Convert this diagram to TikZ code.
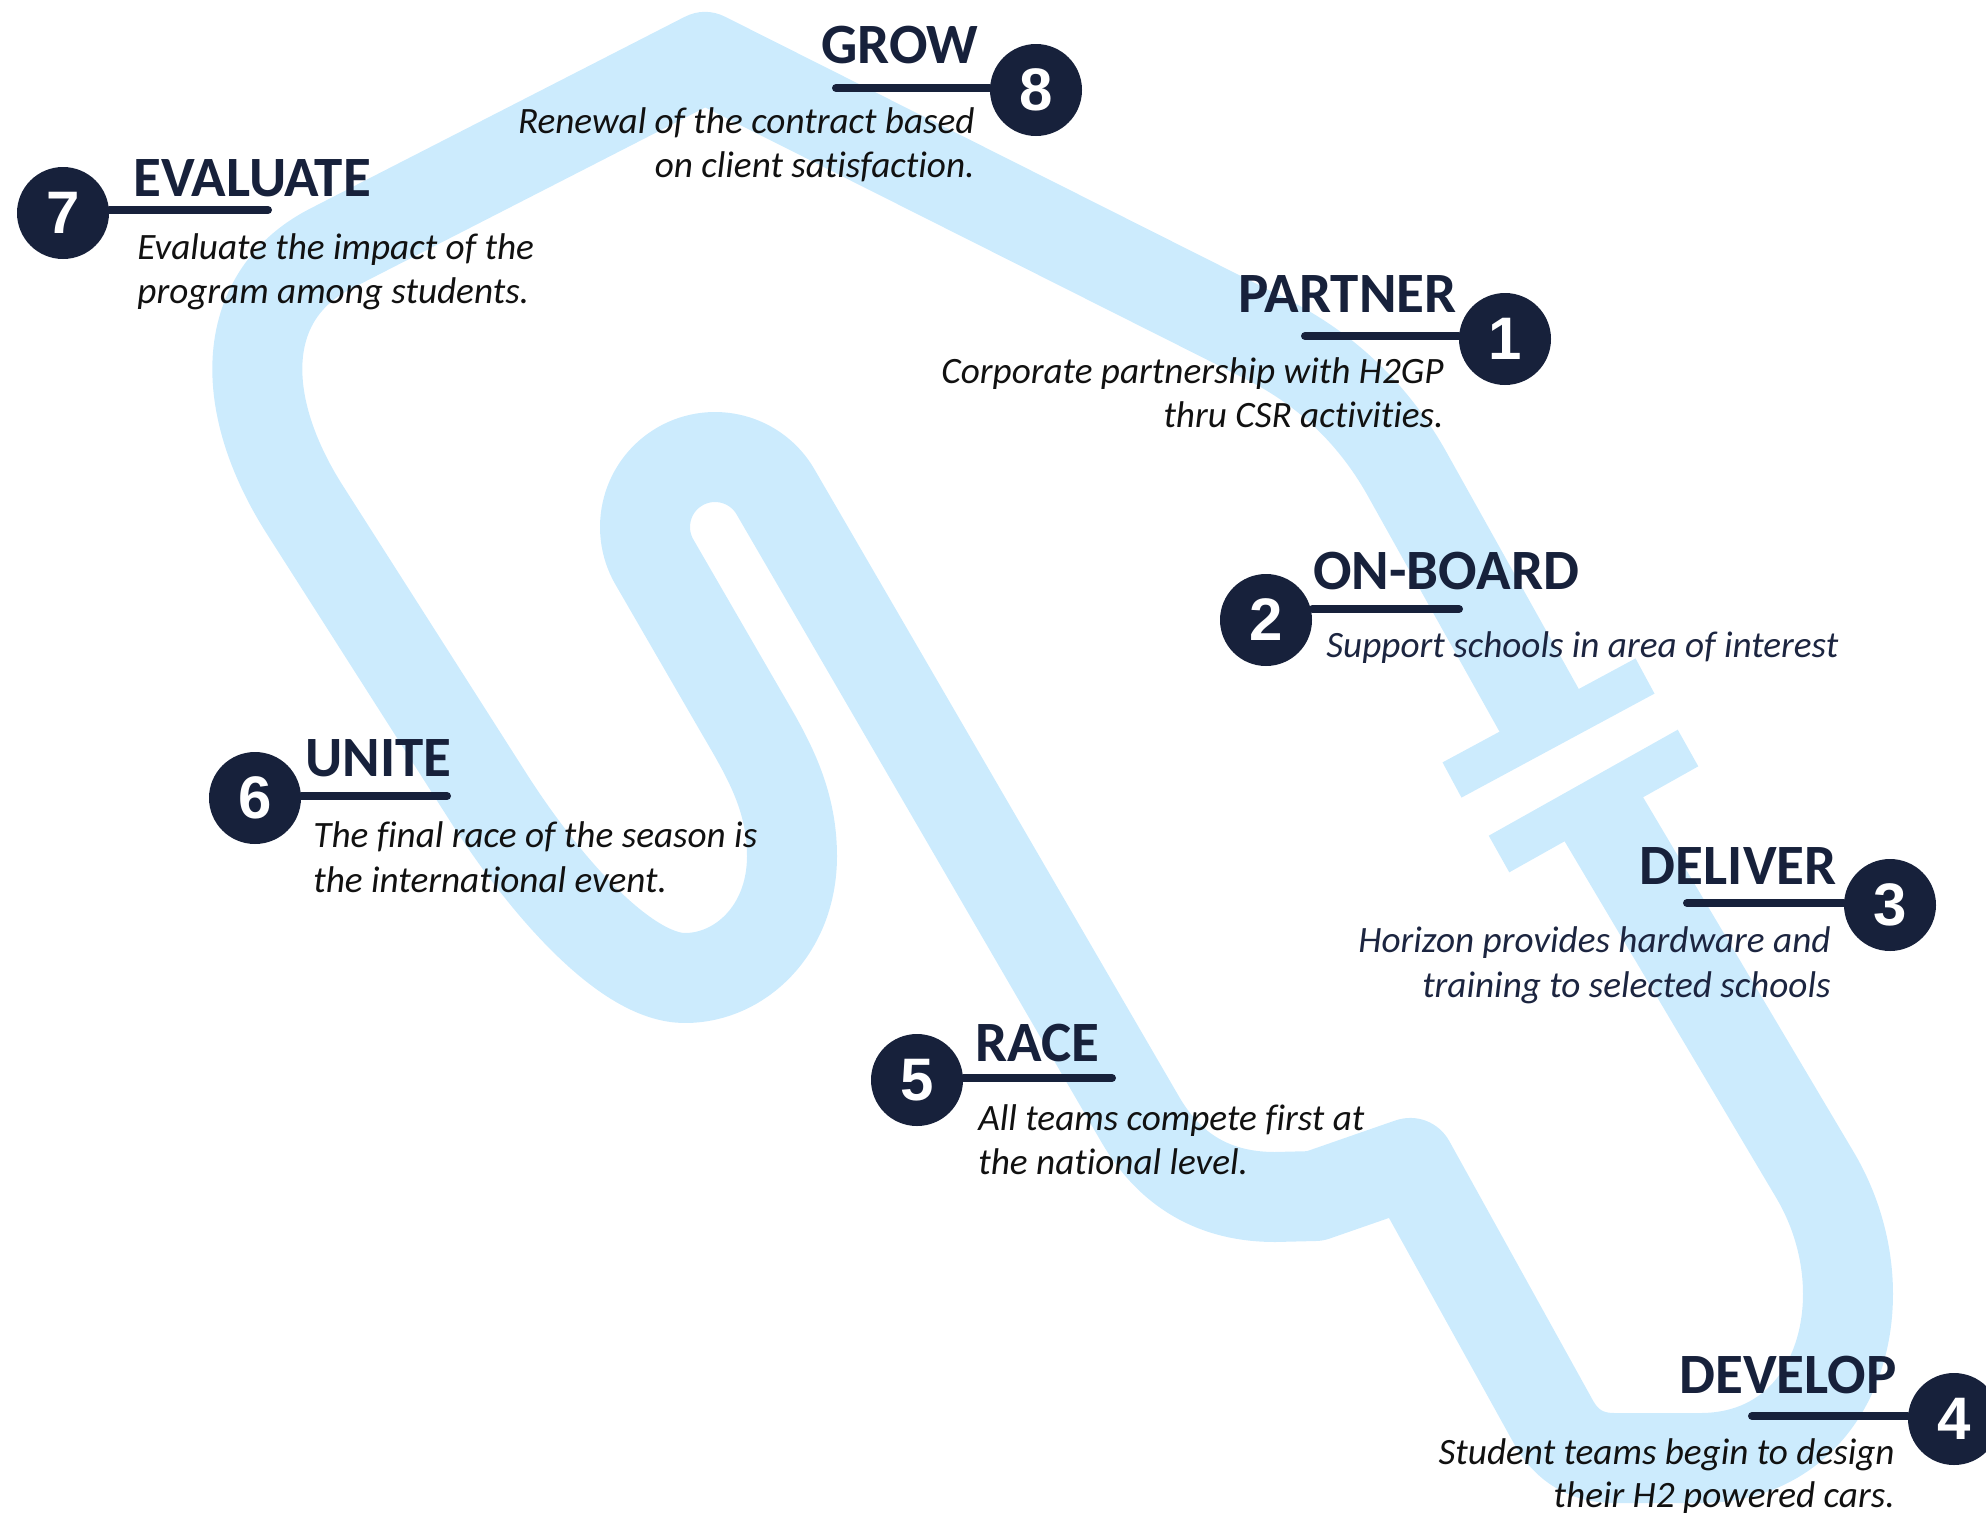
\documentclass[tikz,border=0pt]{standalone}
\usepackage{fontspec}
\setmainfont{Carlito}[Ligatures=NoCommon]
\newfontfamily\digitfont{Liberation Sans}
\definecolor{trk}{HTML}{CCEBFD}
\definecolor{navy}{HTML}{17213B}
\definecolor{ink}{HTML}{111111}
\definecolor{inkb}{HTML}{1C2540}
\tikzset{
  track/.style={draw=trk, line width=45pt, line join=round, line cap=butt},
  startbar/.style={draw=trk, line width=20pt, line cap=butt},
  numc/.style={circle, fill=navy, minimum size=46pt, inner sep=0pt, text=white,
    font=\digitfont\bfseries\fontsize{30}{30}\selectfont},
  uline/.style={draw=navy, line width=4pt, line cap=round},
  ttl/.style={inner sep=0pt, text=navy, font=\bfseries\fontsize{28.5}{30}\selectfont},
  dsc/.style={inner sep=0pt, text=ink, font=\itshape\fontsize{18.6}{20}\selectfont},
}
\begin{document}
\begin{tikzpicture}[x=0.5pt,y=-0.5pt]
\useasboundingbox (0,0) rectangle (1986,1515);
% track
\draw[track] (1593,801) -- (1815,1175)
  .. controls (1886,1295) and (1840,1458) .. (1700,1458)
  -- (1614,1458) .. controls (1587,1458) and (1567,1446) .. (1554,1423)
  -- (1410,1163) -- (1315,1196) -- (1275,1197)
  .. controls (1215,1197) and (1170,1171) .. (1140,1119)
  -- (775.6,492)
  .. controls (756.3,458.5) and (713.5,447.1) .. (680,466.4)
  .. controls (646.5,485.7) and (635.1,528.5) .. (654.4,562)
  -- (740,710)
  .. controls (765,753) and (792,796) .. (792,856)
  .. controls (792,930) and (740,978) .. (685,978)
  .. controls (625,978) and (544,884) .. (490,800)
  -- (305,510)
  .. controls (235,400) and (241,295) .. (330,249)
  -- (705,57) -- (1268,340)
  .. controls (1327,370) and (1373,414) .. (1406,472)
  -- (1549,728);
\draw[startbar] (1452,780) -- (1645,676);
\draw[startbar, line width=21pt] (1499,854) -- (1688,748);

% circles
\node[numc] (c8) at (1036,90) {8};
\node[numc] (c7) at (63,213) {7};
\node[numc] (c1) at (1505,339) {1};
\node[numc] (c2) at (1266,620) {2};
\node[numc] (c6) at (255,798) {6};
\node[numc] (c3) at (1890,905) {3};
\node[numc] (c5) at (917,1080) {5};
\node[numc] (c4) at (1954,1419) {4};

% underlines
\coordinate (u8) at (836,88);
\coordinate (u7) at (268,210);
\coordinate (u1) at (1305,336);
\coordinate (u2) at (1459,609);
\coordinate (u6) at (447,796);
\coordinate (u3) at (1687,903);
\coordinate (u5) at (1112,1078);
\coordinate (u4) at (1752,1416);
\draw[uline] (u8) -- (u8 -| c8.west);
\draw[uline] (u7) -- (u7 -| c7.east);
\draw[uline] (u1) -- (u1 -| c1.west);
\draw[uline] (u2) -- (u2 -| c2.east);
\draw[uline] (u6) -- (u6 -| c6.east);
\draw[uline] (u3) -- (u3 -| c3.west);
\draw[uline] (u5) -- (u5 -| c5.east);
\draw[uline] (u4) -- (u4 -| c4.west);

% titles
\node[ttl, anchor=base east] (t8) at (979,63) {GROW};
\node[ttl, anchor=base west] (t7) at (133,196) {EVALUATE};
\node[ttl, anchor=base east] (t1) at (1457,312) {PARTNER};
\node[ttl, anchor=base west] (t2) at (1313,589) {ON-BOARD};
\node[ttl, anchor=base west] (t6) at (305,776) {UNITE};
\node[ttl, anchor=base east] (t3) at (1837,884) {DELIVER};
\node[ttl, anchor=base west] (t5) at (975,1061) {RACE};
\node[ttl, anchor=base east] (t4) at (1897,1393) {DEVELOP};

% descriptions
\node[dsc, anchor=base east] (d8a) at (975,133) {Renewal of the contract based};
\node[dsc, anchor=base east] (d8b) at (975,177) {on client satisfaction.};
\node[dsc, anchor=base west] (d7a) at (137,259) {Evaluate the impact of the};
\node[dsc, anchor=base west] (d7b) at (137,303) {program among students.};
\node[dsc, anchor=base east] (d1a) at (1444,383) {Corporate partnership with H2GP};
\node[dsc, anchor=base east] (d1b) at (1444,427) {thru CSR activities.};
\node[dsc, text=inkb, anchor=base west] (d2a) at (1326,657) {Support schools in area of interest};
\node[dsc, anchor=base west] (d6a) at (313,847) {The final race of the season is};
\node[dsc, anchor=base west] (d6b) at (313,892) {the international event.};
\node[dsc, text=inkb, anchor=base east] (d3a) at (1831,952) {Horizon provides hardware and};
\node[dsc, text=inkb, anchor=base east] (d3b) at (1831,997) {training to selected schools};
\node[dsc, anchor=base west] (d5a) at (978,1130) {All teams compete first at};
\node[dsc, anchor=base west] (d5b) at (978,1174) {the national level.};
\node[dsc, anchor=base east] (d4a) at (1895,1464) {Student teams begin to design};
\node[dsc, anchor=base east] (d4b) at (1895,1507) {their H2 powered cars.};
\end{tikzpicture}
\end{document}
